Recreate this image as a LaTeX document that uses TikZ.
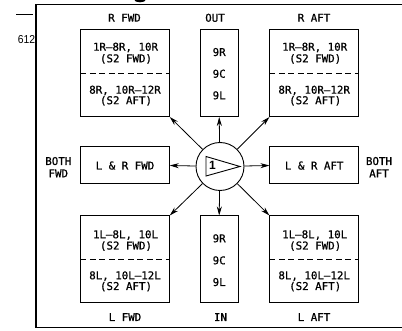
\documentclass[tikz,border=0pt]{standalone}
\usepackage{fontspec}
\usetikzlibrary{arrows.meta}
\newfontfamily\dmono[FakeBold=0.7]{DejaVu Sans Mono}
\newfontfamily\lsans{Liberation Sans}
\begin{document}
\begin{tikzpicture}[x=1pt,y=-1pt,
  box/.style={draw,line width=1pt,inner sep=0pt},
  bigbox/.style={box,minimum width=88.5pt,minimum height=87pt},
  numbox/.style={box,minimum width=38.3pt,minimum height=87pt},
  midbox/.style={box,minimum width=88.5pt,minimum height=37pt},
  txt/.style={font=\dmono\fontsize{10.8}{12}\selectfont,inner sep=0pt,anchor=base},
  dashline/.style={dash pattern=on 6pt off 3.5pt,line width=0.8pt},
  arr/.style={line width=0.8pt,-{Stealth[length=9pt,width=5pt]}}]
\useasboundingbox (0,0) rectangle (402,331);
\clip (0,0) rectangle (402,331);
% frame
\draw[line width=1.2pt] (36,4.7) rectangle (420,327.7);
\fill (140,0) ellipse [x radius=5.5pt, y radius=2.3pt];
\coordinate (ta) at (16,14);
\coordinate (tb) at (33,14);
\draw[line width=0.8pt] (ta) -- (tb);
\node[font=\lsans\fontsize{11.5}{12}\selectfont,inner sep=0pt,xscale=0.9] (num) at (26.5,40) {612};
% boxes
\node[bigbox] (rf) at (125,73) {};
\node[numbox] (out) at (219.2,73) {};
\node[bigbox] (ra) at (314.2,73) {};
\node[midbox] (lrf) at (125,165.5) {};
\node[midbox] (lra) at (314.2,165.5) {};
\node[bigbox] (lf) at (125,259.5) {};
\node[numbox] (in) at (219.2,259.5) {};
\node[bigbox] (la) at (314.2,259.5) {};
\draw[dashline] (rf.west) -- (rf.east);
\draw[dashline] (ra.west) -- (ra.east);
\draw[dashline] (lf.west) -- (lf.east);
\draw[dashline] (la.west) -- (la.east);
% center symbol
\node[draw,circle,line width=0.9pt,minimum size=48pt,inner sep=0pt] (c) at (220,166.5) {};
\coordinate (t1) at (206,156.5);
\coordinate (t2) at (240,166.5);
\coordinate (t3) at (206,176);
\draw[line width=0.9pt] (t1) -- (t2) -- (t3) -- cycle;
\node[font=\lsans\bfseries\fontsize{12}{12}\selectfont,inner sep=0pt] (one) at (212.5,165.5) {1};
% arrows
\draw[arr] (c) -- (rf.south east);
\draw[arr] (c) -- (out.south);
\draw[arr] (c) -- (ra.south west);
\draw[arr] (c) -- (lrf.east);
\draw[arr] (c) -- (lra.west);
\draw[arr] (c) -- (lf.north east);
\draw[arr] (c) -- (in.north);
\draw[arr] (c) -- (la.north west);
% labels
\node[txt] (l1) at (124.5,21.7) {R FWD};
\node[txt] (l2) at (215,21.7) {OUT};
\node[txt] (l3) at (314,21.7) {R AFT};
\node[txt] (l4) at (125,321) {L FWD};
\node[txt] (l5) at (220.5,321) {IN};
\node[txt] (l6) at (314,321) {L AFT};
\node[txt] (l7) at (58.3,165) {BOTH};
\node[txt] (l8) at (58.3,177.3) {FWD};
\node[txt] (l9) at (379,165) {BOTH};
\node[txt] (l10) at (379,177.3) {AFT};
\node[txt] (l11) at (125,169.5) {L \& R FWD};
\node[txt] (l12) at (314.2,169.5) {L \& R AFT};
% upper box texts
\node[txt] (a1) at (125.5,50.7) {1R–8R, 10R};
\node[txt] (a2) at (126,62.3) {(S2 FWD)};
\node[txt] (a3) at (125,93.7) {8R, 10R–12R};
\node[txt] (a4) at (126,104.2) {(S2 AFT)};
\node[txt] (b1) at (314.7,50.7) {1R–8R, 10R};
\node[txt] (b2) at (315.2,62.3) {(S2 FWD)};
\node[txt] (b3) at (314.2,93.7) {8R, 10R–12R};
\node[txt] (b4) at (315.2,104.2) {(S2 AFT)};
% lower box texts
\node[txt] (c1) at (125.5,238.3) {1L–8L, 10L};
\node[txt] (c2) at (126,249.5) {(S2 FWD)};
\node[txt] (c3) at (125,279.3) {8L, 10L–12L};
\node[txt] (c4) at (126,290) {(S2 AFT)};
\node[txt] (d1) at (314.7,238.3) {1L–8L, 10L};
\node[txt] (d2) at (315.2,249.5) {(S2 FWD)};
\node[txt] (d3) at (314.2,279.3) {8L, 10L–12L};
\node[txt] (d4) at (315.2,290) {(S2 AFT)};
% number boxes
\node[txt] (o1) at (219.2,56) {9R};
\node[txt] (o2) at (219.2,77.7) {9C};
\node[txt] (o3) at (219.2,99.3) {9L};
\node[txt] (i1) at (219.2,242.3) {9R};
\node[txt] (i2) at (219.2,264.3) {9C};
\node[txt] (i3) at (219.2,286) {9L};
\end{tikzpicture}
\end{document}
